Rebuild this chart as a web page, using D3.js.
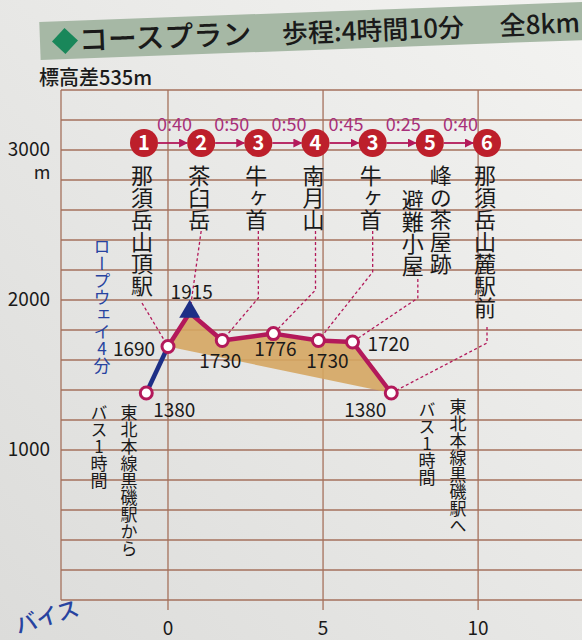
<!DOCTYPE html>
<html>
<head>
<meta charset="utf-8">
<script src="https://cdn.jsdelivr.net/npm/d3@7"></script>
<style>
  body { margin: 0; background: #e9e9e7; }
  svg { display: block; font-family: "Noto Sans CJK JP", "Noto Sans", sans-serif; }
  .vert { writing-mode: vertical-rl; text-orientation: upright; }
</style>
</head>
<body>
<div id="chart"></div>
<script>
// 距離(km)と標高(m)
const pointKm = [-0.7, 0, 0.7, 1.75, 3.4, 4.85, 5.95, 7.2];
const pointElev = [1380, 1690, 1915, 1730, 1776, 1730, 1720, 1380];

// 地点番号・名前・所要時間
const stationNums = ["1", "2", "3", "4", "3", "5", "6"];
const stationNames = [["那須岳山頂駅"], ["茶臼岳"], ["牛ヶ首"], ["南月山"], ["牛ヶ首"], ["峰の茶屋跡", "避難小屋"], ["那須岳山麓駅前"]];
const legTimes = ["0:40", "0:50", "0:50", "0:45", "0:25", "0:40"];
// 各地点がつながるプロフィールの点
const stationPoint = [1, 2, 3, 4, 5, 6, 7];

const yTicks = [1000, 2000, 3000];
const xTicks = [0, 5, 10];

const width = 582, height = 640;
const crimson = "#b3195a", navy = "#1d2f86", grid = "#a5715c";

const svg = d3.select("#chart").append("svg")
    .attr("width", width).attr("height", height);

// 紙の背景
const grad = svg.append("defs").append("linearGradient")
    .attr("id", "paper").attr("x1", 1).attr("y1", 0).attr("x2", 0).attr("y2", 1);
grad.append("stop").attr("offset", 0).attr("stop-color", "#f3f3f1");
grad.append("stop").attr("offset", 1).attr("stop-color", "#dcdcda");
svg.append("rect").attr("width", width).attr("height", height).attr("fill", "url(#paper)");

// 見出し
const head = svg.append("g").attr("transform", "rotate(-2.1 40 42)");
head.append("rect").attr("x", 40).attr("y", 22).attr("width", 560).attr("height", 38).attr("fill", "#a6b8a5");
head.append("path").attr("d", "M52,42 L65,29 L78,42 L65,55 Z").attr("fill", "#19875a");
head.append("text").attr("x", 79).attr("y", 52).attr("font-size", 29).attr("font-weight", 500)
    .attr("fill", "#1a1a1a").text("コースプラン");
head.append("text").attr("x", 282).attr("y", 52).attr("font-size", 26).attr("font-weight", 500)
    .attr("fill", "#1a1a1a").text("歩程:4時間10分");
head.append("text").attr("x", 500).attr("y", 52).attr("font-size", 26).attr("font-weight", 500)
    .attr("fill", "#1a1a1a").text("全8km");

svg.append("text").attr("x", 39).attr("y", 85).attr("font-size", 20).attr("font-weight", 500)
    .attr("fill", "#1a1a1a").text("標高差535m");

// スケール
const x = d3.scaleLinear().domain([-3.45, 13.35]).range([61, 582]);
const y = d3.scaleLinear().domain([0, 3400]).range([600, 90]);

// グリッド
const gridG = svg.append("g").attr("stroke", grid).attr("stroke-width", 1.3);
gridG.selectAll("line.h").data(d3.range(0, 3401, 200)).join("line")
    .attr("x1", x(-3.45)).attr("x2", width)
    .attr("y1", d => y(d)).attr("y2", d => y(d));
gridG.selectAll("line.v").data([-3.45, ...xTicks]).join("line")
    .attr("x1", d => x(d)).attr("x2", d => x(d))
    .attr("y1", y(3400)).attr("y2", d => d === -3.45 ? y(0) : y(0) + 10);

// 軸ラベル(最上段の目盛りに単位 m を添える)
const yLab = svg.append("g").selectAll("text").data(yTicks).join("text")
    .attr("x", 50).attr("y", d => y(d) + 6).attr("text-anchor", "end")
    .attr("font-size", 19).attr("fill", "#1a1a1a");
yLab.append("tspan").text(d => d);
yLab.filter(d => d === d3.max(yTicks)).append("tspan")
    .attr("x", 42).attr("dy", 23).attr("text-anchor", "middle").attr("font-size", 18)
    .text("m");
svg.append("g").selectAll("text").data(xTicks).join("text")
    .attr("x", d => x(d)).attr("y", y(0) + 35).attr("text-anchor", "middle")
    .attr("font-size", 19).attr("fill", "#1a1a1a").text(d => d);

const pts = pointKm.map((k, i) => [x(k), y(pointElev[i])]);

// 歩行区間の塗り(始点と終点を結んだ面)
svg.append("path")
    .attr("d", d3.line()(pts.slice(1)) + "Z")
    .attr("fill", "#d5a662").attr("opacity", 0.9);

// 上段の地点
const sx = d3.scalePoint().domain(d3.range(stationNums.length)).range([144, 487]);
const sy = 143;

// 引き出し線
const bendY = [null, null, 298, 290, 272, 298, 343];
const leaderG = svg.append("g").attr("fill", "none").attr("stroke", crimson)
    .attr("stroke-width", 1.3).attr("stroke-dasharray", "3,2.5");
stationNames.forEach((names, i) => {
    const colX = names.length > 1 ? sx(i) - 12 : sx(i);
    const chars = names.length > 1 ? names[1].length + 1 : names[0].length;
    const top = sy + 24 + chars * 24 - 8;
    const p = pts[stationPoint[i]];
    const path = [[colX - (i === 0 ? 2 : 0), top]];
    if (bendY[i] !== null) path.push([colX, bendY[i]]);
    path.push(p);
    leaderG.append("path").attr("d", d3.line()(path));
});

// プロフィール線
svg.append("path").attr("d", d3.line()(pts.slice(0, 2)))
    .attr("fill", "none").attr("stroke", navy).attr("stroke-width", 4.5);
svg.append("path").attr("d", d3.line()(pts.slice(1)))
    .attr("fill", "none").attr("stroke", crimson).attr("stroke-width", 4.5)
    .attr("stroke-linejoin", "round");

// 山頂の三角
const peak = pointElev.indexOf(d3.max(pointElev));
svg.append("path")
    .attr("d", d3.symbol(d3.symbolTriangle, 190)())
    .attr("transform", `translate(${pts[peak][0]},${pts[peak][1] - 1})`)
    .attr("fill", navy);

svg.append("g").selectAll("circle").data(pts.filter((d, i) => i !== peak)).join("circle")
    .attr("cx", d => d[0]).attr("cy", d => d[1]).attr("r", 6)
    .attr("fill", "#fff").attr("stroke", crimson).attr("stroke-width", 3);

// 標高ラベル
const labelDx = [28, -34, 2, -2, 2, 9, 36, -26];
const labelDy = [24, 9, -14, 27, 22, 27, 9, 24];
svg.append("g").selectAll("text").data(pointElev).join("text")
    .attr("x", (d, i) => pts[i][0] + labelDx[i])
    .attr("y", (d, i) => pts[i][1] + labelDy[i])
    .attr("text-anchor", "middle").attr("font-size", 19).attr("fill", "#1a1a1a")
    .text(d => d);

// 矢印
svg.append("defs").append("marker").attr("id", "arr")
    .attr("viewBox", "0 0 10 10").attr("refX", 9).attr("refY", 5)
    .attr("markerWidth", 5).attr("markerHeight", 5).attr("orient", "auto")
    .append("path").attr("d", "M0,0 L10,5 L0,10 Z").attr("fill", crimson);
svg.append("g").selectAll("line").data(legTimes).join("line")
    .attr("x1", (d, i) => sx(i) + 14).attr("x2", (d, i) => sx(i + 1) - 14)
    .attr("y1", sy).attr("y2", sy)
    .attr("stroke", crimson).attr("stroke-width", 1.8).attr("marker-end", "url(#arr)");
svg.append("g").selectAll("text").data(legTimes).join("text")
    .attr("x", (d, i) => (sx(i) + sx(i + 1)) / 2 + 2).attr("y", sy - 12)
    .attr("text-anchor", "middle").attr("font-size", 18).attr("fill", "#a8307a")
    .text(d => d);

const st = svg.append("g").selectAll("g").data(stationNums).join("g")
    .attr("transform", (d, i) => `translate(${sx(i)},${sy})`);
st.append("circle").attr("r", 14).attr("fill", "#bd1f2b");
st.append("text").attr("y", 7).attr("text-anchor", "middle").attr("font-size", 20)
    .attr("font-weight", 700).attr("fill", "#fff").text(d => d);

// 地点名(縦書き)
stationNames.forEach((names, i) => {
    names.forEach((name, j) => {
        svg.append("text").attr("class", "vert")
            .attr("x", names.length > 1 ? sx(i) + 11 - j * 28 : sx(i) - 2)
            .attr("y", sy + 22 + j * 24)
            .attr("font-size", 22).attr("fill", "#1a1a1a")
            .text(name);
    });
});

// 交通の注記
const notes = [
    { text: "ロープウェイ4分", x: 102, y: 238, color: "#2743a0" },
    { text: "東北本線黒磯駅から", x: 129, y: 404, color: "#1a1a1a" },
    { text: "バス1時間", x: 99, y: 404, color: "#1a1a1a" },
    { text: "東北本線黒磯駅へ", x: 458, y: 398, color: "#1a1a1a" },
    { text: "バス1時間", x: 427, y: 401, color: "#1a1a1a" }
];
svg.append("g").selectAll("text").data(notes).join("text")
    .attr("class", "vert")
    .attr("x", d => d.x).attr("y", d => d.y)
    .attr("font-size", 17).attr("fill", d => d.color)
    .text(d => d.text);

// 下の見出しの一部
svg.append("text").attr("transform", "translate(18,634) rotate(-17)")
    .attr("font-size", 22).attr("font-weight", 500)
    .attr("fill", "#2743a0").text("バイス");
</script>
</body>
</html>
